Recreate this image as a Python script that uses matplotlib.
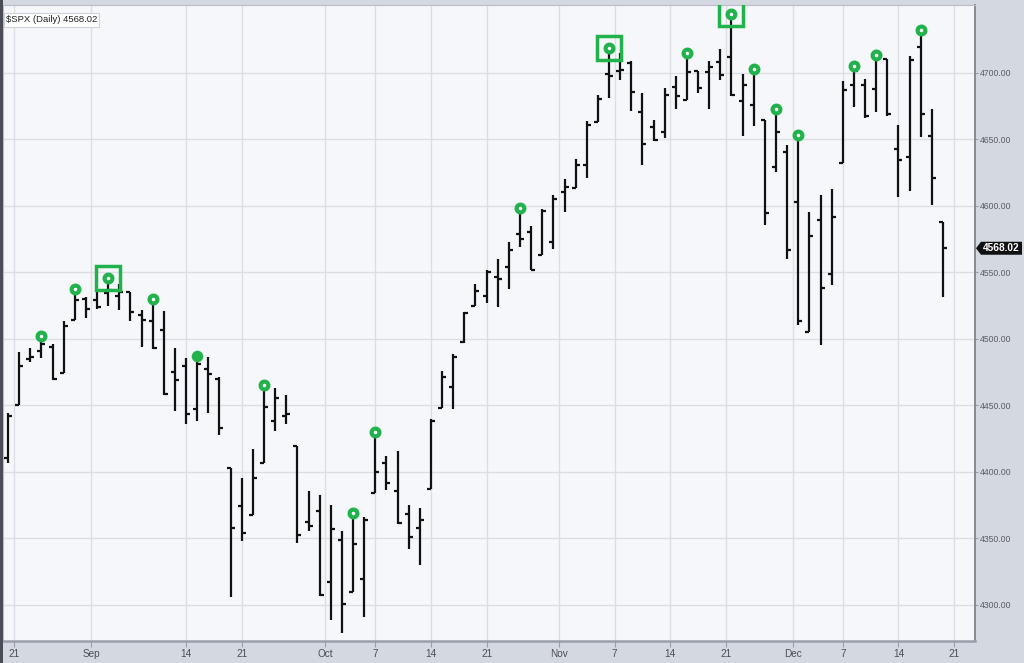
import matplotlib
matplotlib.use("Agg")
import matplotlib.pyplot as plt
from matplotlib.patches import Polygon, Rectangle

plt.rcParams['font.family'] = ['Liberation Sans', 'DejaVu Sans']

# daily bars, $SPX 2021-08-20 .. 2021-12-20
dates = ["08-20", "08-23", "08-24", "08-25", "08-26", "08-27", "08-30", "08-31",
         "09-01", "09-02", "09-03", "09-07", "09-08", "09-09", "09-10", "09-13",
         "09-14", "09-15", "09-16", "09-17", "09-20", "09-21", "09-22", "09-23",
         "09-24", "09-27", "09-28", "09-29", "09-30", "10-01", "10-04", "10-05",
         "10-06", "10-07", "10-08", "10-11", "10-12", "10-13", "10-14", "10-15",
         "10-18", "10-19", "10-20", "10-21", "10-22", "10-25", "10-26", "10-27",
         "10-28", "10-29", "11-01", "11-02", "11-03", "11-04", "11-05", "11-08",
         "11-09", "11-10", "11-11", "11-12", "11-15", "11-16", "11-17", "11-18",
         "11-19", "11-22", "11-23", "11-24", "11-26", "11-29", "11-30", "12-01",
         "12-02", "12-03", "12-06", "12-07", "12-08", "12-09", "12-10", "12-13",
         "12-14", "12-15", "12-16", "12-17", "12-20"]
opens = [4410.6, 4450.3, 4484.4, 4490.5, 4493.8, 4474.1, 4513.8, 4529.8,
         4528.8, 4534.5, 4532.4, 4535.4, 4518.1, 4513.0, 4506.9, 4474.8,
         4479.3, 4447.5, 4477.1, 4469.7, 4403.0, 4374.5, 4367.4, 4406.8,
         4438.0, 4442.1, 4419.5, 4362.4, 4370.7, 4317.2, 4348.8, 4309.9,
         4319.6, 4383.7, 4406.5, 4385.4, 4368.3, 4358.0, 4386.8, 4447.7,
         4463.7, 4497.3, 4524.4, 4532.2, 4546.1, 4553.7, 4578.7, 4580.2,
         4562.8, 4572.9, 4610.6, 4613.3, 4630.7, 4662.9, 4699.3, 4701.5,
         4707.3, 4670.3, 4659.4, 4655.2, 4689.3, 4679.4, 4701.5, 4700.7,
         4708.4, 4712.0, 4678.5, 4675.8, 4664.6, 4628.8, 4640.3, 4602.8,
         4504.7, 4589.5, 4548.4, 4632.0, 4690.9, 4691.0, 4687.6, 4710.3,
         4643.0, 4636.5, 4719.1, 4652.5, 4587.9]
highs = [4444.4, 4489.9, 4492.8, 4501.7, 4495.9, 4513.3, 4537.4, 4531.4,
         4537.1, 4545.9, 4541.5, 4535.4, 4521.8, 4529.9, 4520.5, 4493.0,
         4485.7, 4486.9, 4485.9, 4471.5, 4403.0, 4394.9, 4416.8, 4465.4,
         4463.1, 4457.3, 4419.5, 4385.6, 4382.6, 4375.2, 4355.5, 4369.2,
         4365.6, 4430.0, 4412.0, 4415.9, 4374.9, 4372.9, 4439.7, 4475.8,
         4488.8, 4520.4, 4540.9, 4551.4, 4559.7, 4572.6, 4598.5, 4584.6,
         4597.6, 4608.1, 4620.3, 4635.2, 4663.5, 4683.0, 4718.5, 4714.9,
         4708.5, 4684.9, 4664.6, 4688.5, 4697.4, 4715.0, 4701.5, 4708.8,
         4717.8, 4743.8, 4699.4, 4702.9, 4664.6, 4673.0, 4646.0, 4652.9,
         4595.5, 4608.0, 4612.6, 4694.0, 4705.1, 4695.3, 4713.6, 4710.3,
         4660.5, 4712.6, 4732.0, 4673.0, 4587.9]
lows = [4406.8, 4450.3, 4482.3, 4485.7, 4469.0, 4474.1, 4513.8, 4515.8,
        4522.0, 4524.7, 4521.9, 4513.0, 4494.0, 4492.1, 4457.7, 4445.7,
        4435.5, 4438.4, 4443.8, 4427.8, 4305.9, 4348.0, 4367.4, 4406.8,
        4430.3, 4436.2, 4346.3, 4355.1, 4306.2, 4288.5, 4278.9, 4309.9,
        4290.5, 4383.7, 4386.2, 4360.6, 4342.1, 4329.9, 4386.8, 4447.7,
        4447.5, 4496.4, 4524.4, 4526.9, 4524.0, 4537.4, 4569.2, 4551.7,
        4562.8, 4567.6, 4595.1, 4613.3, 4621.2, 4662.6, 4681.3, 4694.4,
        4670.9, 4630.9, 4648.3, 4650.8, 4672.9, 4679.4, 4684.4, 4672.8,
        4694.2, 4682.2, 4652.7, 4659.9, 4585.4, 4625.3, 4560.0, 4510.3,
        4504.7, 4495.1, 4540.5, 4632.0, 4674.5, 4666.0, 4670.2, 4667.6,
        4606.5, 4611.2, 4651.9, 4600.2, 4531.1]
closes = [4441.7, 4479.5, 4486.2, 4496.2, 4470.0, 4509.4, 4528.8, 4522.7,
          4524.1, 4537.0, 4535.4, 4520.0, 4514.1, 4493.3, 4458.6, 4468.7,
          4443.1, 4480.7, 4473.8, 4433.0, 4357.7, 4354.2, 4395.6, 4449.0,
          4455.5, 4443.1, 4352.6, 4359.5, 4307.5, 4357.0, 4300.5, 4345.7,
          4363.6, 4399.8, 4391.3, 4361.2, 4350.7, 4363.8, 4438.3, 4471.4,
          4486.5, 4519.6, 4536.2, 4549.8, 4544.9, 4566.5, 4574.8, 4551.7,
          4596.4, 4605.4, 4613.7, 4630.7, 4660.6, 4680.1, 4697.5, 4701.7,
          4685.3, 4646.7, 4649.3, 4682.9, 4682.8, 4700.9, 4688.7, 4704.5,
          4698.0, 4682.9, 4690.7, 4701.5, 4594.6, 4655.3, 4567.0, 4513.0,
          4577.1, 4538.4, 4591.7, 4686.8, 4701.2, 4667.5, 4712.0, 4669.0,
          4634.1, 4709.9, 4668.7, 4620.6, 4568.02]

# swing-high markers
circle_days = ["08-25", "08-30", "09-02", "09-09", "09-23", "10-05", "10-07",
               "10-26", "11-05", "11-16", "11-22", "11-24", "11-29", "12-01",
               "12-08", "12-10", "12-16"]
dot_days = ["09-15"]
square_days = ["09-02", "11-05", "11-22"]

tick_labels = ["21", "Sep", "14", "21", "Oct", "7", "14", "21", "Nov", "7",
               "14", "21", "Dec", "7", "14", "21"]
tick_pos = [0.5, 7.5, 16, 21, 28.5, 33, 38, 43, 49.5, 54.5, 59.5, 64.5,
            70.5, 75, 80, 85]
price_ticks = [4300, 4350, 4400, 4450, 4500, 4550, 4600, 4650, 4700]
last_close = closes[-1]

W, H = 1024, 663
fig = plt.figure(figsize=(W / 100, H / 100), dpi=100)
fig.patch.set_facecolor('#d4d8e1')

ax_l, ax_r, ax_t, ax_b = 3, 975, 5.3, 641
ax = fig.add_axes([ax_l / W, (H - ax_b) / H, (ax_r - ax_l) / W, (ax_b - ax_t) / H])
ax.set_facecolor('#f5f7fb')

x = list(range(len(dates)))
tw = 0.36
bar_c = '#111111'
ax.vlines(x, lows, highs, color=bar_c, lw=1.6, zorder=3)
ax.hlines(opens, [i - tw for i in x], x, color=bar_c, lw=1.6, zorder=3)
ax.hlines(closes, x, [i + tw for i in x], color=bar_c, lw=1.6, zorder=3)

green = '#22b24c'
for d in square_days:
    i = dates.index(d)
    ax.plot(i, highs[i], marker='s', ms=17, mfc='none', mec=green, mew=2.5, zorder=4)
for d in circle_days:
    i = dates.index(d)
    ax.plot(i, highs[i], marker='o', ms=5.6, mfc='white', mec=green, mew=3.0, zorder=5)
for d in dot_days:
    i = dates.index(d)
    ax.plot(i, highs[i], marker='o', ms=8.3, mfc=green, mec=green, mew=0, zorder=5)

ax.set_xlim(-0.45, 86.88)
ax.set_ylim(4272.7, 4750.7)

ax.set_xticks(tick_pos)
ax.set_xticklabels(tick_labels)
ax.set_yticks(price_ticks)
ax.set_yticklabels(['%.2f' % p for p in price_ticks])
ax.yaxis.tick_right()
ax.tick_params(axis='y', length=2.5, color='#9a9ea8', labelsize=6.2, labelcolor='#5a5d66', pad=1)
ax.tick_params(axis='x', length=4, color='#9a9ea8', labelsize=7.2, labelcolor='#4a4d55', pad=1.5)
ax.grid(True, color='#dcdee4', lw=1, zorder=0)
ax.set_axisbelow(True)

for s in ['left', 'top']:
    ax.spines[s].set_color('#b8bcc6')
    ax.spines[s].set_linewidth(0.8)
ax.spines['right'].set_color('#858993')
ax.spines['right'].set_linewidth(1.4)
ax.spines['bottom'].set_color('#9a9ea8')
ax.spines['bottom'].set_linewidth(1.8)

# symbol caption
ax.text(0.003, 0.984, '$SPX (Daily) %.2f' % last_close, transform=ax.transAxes,
        fontsize=6.8, color='#222', va='top', ha='left',
        bbox=dict(boxstyle='square,pad=0.22', fc='white', ec='#d0d3da', lw=0.8), zorder=6)

# left dark strip
fig.add_artist(Rectangle((0, 0), 2.5 / W, 1, transform=fig.transFigure,
                         fc='#4a4d55', ec='none'))

# last price tag
yp = ax.transData.transform((0, last_close))[1] / H
th = 6.5 / H
poly = [(976 / W, yp), (981 / W, yp + th), (1022 / W, yp + th),
        (1022 / W, yp - th), (981 / W, yp - th)]
fig.add_artist(Polygon(poly, closed=True, transform=fig.transFigure,
                       fc='#111111', ec='none'))
fig.text(1001 / W, yp, '%.2f' % last_close, color='white', fontsize=7.3,
         fontweight='bold', ha='center', va='center')

fig.savefig('out.png', dpi=100, facecolor=fig.get_facecolor())
